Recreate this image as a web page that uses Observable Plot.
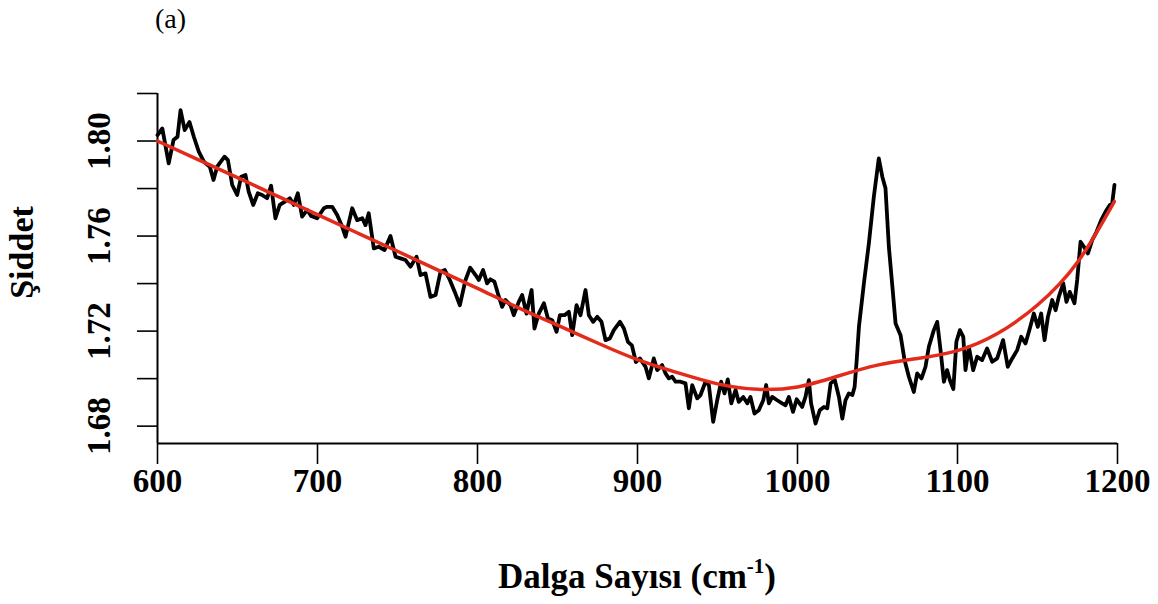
<!DOCTYPE html>
<html>
<head>
<meta charset="utf-8">
<script src="https://cdn.jsdelivr.net/npm/d3@7"></script>
<script src="https://cdn.jsdelivr.net/npm/@observablehq/plot@0.6"></script>
<style>
  html, body { margin: 0; padding: 0; background: #fff; }
  #wrap { position: relative; width: 1158px; height: 604px; font-family: "Liberation Serif", "Times New Roman", serif; }
  #panel { position: absolute; left: 155px; top: 3px; font-size: 28px; color: #000; }
  #xtitle { position: absolute; left: 637px; top: 558px; transform: translateX(-50%); font-size: 35px; font-weight: bold; white-space: nowrap; line-height: 38px; }
  #xtitle sup { font-size: 0.6em; line-height: 0; position: relative; top: -0.1em; }
</style>
</head>
<body>
<div id="wrap">
  <div id="chart"></div>
  <div id="panel">(a)</div>
  <div id="xtitle">Dalga Sayısı (cm<sup>-1</sup>)</div>
</div>
<script>
// Measured spectrum (wavenumber in cm-1, intensity)
const wavenumber = [
  600, 603, 607, 610, 612.5, 614.4, 617, 620, 622.7, 625.8, 629, 632.7, 635, 637.3, 641.9, 644, 646.7, 649.8,
  652.3, 655, 657, 659.8, 662.7, 665.4, 668.5, 671, 673.7, 676.4, 679.6, 682.7, 685.2, 687.7, 690.4, 693.6,
  696, 699.8, 704, 706, 709.2, 712.3, 715.4, 717.5, 721.7, 724.8, 728, 730, 732, 735.2, 738.3, 741.9, 745.6,
  748.8, 751.9, 755, 758.1, 761.9, 764.4, 767.5, 770.6, 773.8, 776.9, 779.6, 782.7, 785.8, 789, 792.5, 795.4,
  798.8, 800.8, 803.5, 806, 808, 810.6, 812.7, 815.4, 817.5, 820.6, 822.7, 825.8, 827.9, 830.6, 833.8, 835.6,
  838.3, 841.5, 844, 846.7, 849.4, 851.5, 854.4, 857.1, 859.2, 861.9, 864.4, 867.5, 869.6, 872.3, 874.8, 877.5,
  880, 882.7, 885.2, 889, 891.5, 894, 896.5, 899, 901.5, 903.6, 905, 907.1, 910.2, 912.3, 915.4, 917.5, 919.6,
  921.7, 923.8, 926.9, 930, 932.1, 934.2, 937.3, 939.4, 942.5, 944.6, 947.3, 949.8, 952.3, 954.4, 956.4, 958.6,
  961.3, 963.3, 966.1, 968.6, 970.6, 973.1, 975.8, 978.6, 980.4, 982.1, 984.2, 987.3, 990.4, 992.5, 994.6,
  997.2, 999.5, 1002.9, 1005, 1007.1, 1008.5, 1011.3, 1013.9, 1016.5, 1018.6, 1020.7, 1023.3, 1025.9, 1028,
  1030, 1032.1, 1034.3, 1035.7, 1037, 1038.4, 1041.5, 1044.6, 1047.7, 1050.8, 1053, 1055, 1057.1, 1059.3,
  1061.3, 1064.4, 1066.9, 1069.6, 1072.7, 1074.8, 1077.5, 1080, 1082.1, 1085.2, 1087.3, 1089.4, 1091.5, 1093.5,
  1095.2, 1097.4, 1099.3, 1101.5, 1103.6, 1105, 1107.1, 1109.8, 1112.3, 1115.4, 1118.5, 1121.7, 1124.8, 1128.5,
  1131.4, 1134.2, 1137.3, 1139.8, 1142.5, 1145.2, 1147.7, 1150.2, 1152.3, 1154.4, 1156.5, 1159.2, 1161.3,
  1163.3, 1166.1, 1168.1, 1170.2, 1173.1, 1174.8, 1176.9, 1179, 1181.5, 1184.2, 1186.9, 1189.8, 1192.5, 1195.2,
  1196.7, 1198.1
];
const intensity = [
  1.8025, 1.8053, 1.7906, 1.8004, 1.8018, 1.8130, 1.8046, 1.8080, 1.8018, 1.7955, 1.7913, 1.7892, 1.7836, 1.7892,
  1.7934, 1.7920, 1.7815, 1.7773, 1.7850, 1.7857, 1.7787, 1.7731, 1.7780, 1.7773, 1.7759, 1.7812, 1.7675, 1.7731,
  1.7745, 1.7759, 1.7731, 1.7780, 1.7682, 1.7710,
  1.7685, 1.7675, 1.7717, 1.7723, 1.7723, 1.7689, 1.7640, 1.7597, 1.7717, 1.7667, 1.7675, 1.7646, 1.7696, 1.7548,
  1.7555, 1.7541, 1.7600, 1.7513, 1.7506, 1.7499, 1.7471, 1.7513, 1.7436, 1.7443, 1.7344, 1.7352, 1.7450, 1.7457,
  1.7415, 1.7365, 1.7309, 1.7415, 1.7467,
  1.7436, 1.7415, 1.7457, 1.7401, 1.7418, 1.7408, 1.7359, 1.7302, 1.7331, 1.7309, 1.7267, 1.7323, 1.7352, 1.7274,
  1.7373, 1.7211, 1.7274, 1.7317, 1.7253, 1.7246, 1.7197, 1.7267, 1.7267, 1.7281, 1.7183, 1.7309, 1.7267, 1.7373,
  1.7267, 1.7239, 1.7260, 1.7239, 1.7162, 1.7169, 1.7204, 1.7239, 1.7211, 1.7155, 1.7140, 1.7070,
  1.7085, 1.7064, 1.7050, 1.7001, 1.7085, 1.7036, 1.7057, 1.7022, 1.7001, 1.7008, 1.6987, 1.6987, 1.6980, 1.6875,
  1.6973, 1.6917, 1.6931, 1.6987, 1.6973, 1.6818, 1.6909, 1.6987, 1.6938, 1.6997, 1.6896, 1.6952, 1.6902, 1.6923,
  1.6896, 1.6923, 1.6853, 1.6867, 1.6909, 1.6973, 1.6896, 1.6923, 1.6909, 1.6896, 1.6888, 1.6923,
  1.6860, 1.6913, 1.6881, 1.6923, 1.6994, 1.6896, 1.6811, 1.6867, 1.6881, 1.6875, 1.6980, 1.6994, 1.6923, 1.6832,
  1.6909, 1.6938, 1.6931, 1.6965, 1.7078, 1.7218, 1.7401, 1.7569, 1.7765, 1.7927, 1.7850, 1.7801, 1.7555, 1.7387,
  1.7232, 1.7183, 1.7078, 1.7008, 1.6944, 1.7022, 1.7001, 1.7050, 1.7134, 1.7204, 1.7239, 1.7120, 1.6987, 1.7036,
  1.6994, 1.6956, 1.7155, 1.7204, 1.7176, 1.7036, 1.7134, 1.7036, 1.7092, 1.7078, 1.7127, 1.7071, 1.7085, 1.7162,
  1.7050, 1.7085, 1.7120, 1.7176, 1.7148, 1.7211, 1.7274, 1.7218, 1.7274, 1.7162, 1.7260, 1.7331, 1.7288,
  1.7344, 1.7401, 1.7323, 1.7365, 1.7317, 1.7415, 1.7576, 1.7555, 1.7527, 1.7583, 1.7618, 1.7667, 1.7702, 1.7731,
  1.7738, 1.7815
];
// Smooth fitted baseline (red)
const fitWavenumber = [600, 625, 650, 675, 700, 725, 750, 775, 800, 825, 850, 875, 900, 925, 950, 975, 1000, 1025, 1050, 1075, 1100, 1125, 1150, 1175, 1198];
const fitIntensity  = [1.800, 1.7923, 1.7846, 1.7768, 1.769, 1.7613, 1.7536, 1.7458, 1.738, 1.730, 1.7225, 1.715, 1.708, 1.7025, 1.6978, 1.6955, 1.6965, 1.701, 1.7057, 1.7085, 1.7118, 1.719, 1.731, 1.749, 1.7745];
// Axis ticks
const xTicks = [600, 700, 800, 900, 1000, 1100, 1200];
const yTicks = [1.68, 1.70, 1.72, 1.74, 1.76, 1.78, 1.80, 1.82];
const yLabelValues = [1.68, 1.72, 1.76, 1.80];
const yLabelTexts = ["1.68", "1.72", "1.76", "1.80"];
const yTitle = "Şiddet";

const spectrum = wavenumber.map((w, i) => ({w, v: intensity[i]}));
const fit = fitWavenumber.map((w, i) => ({w, v: fitIntensity[i]}));
const yLabels = yLabelValues.map((v, i) => ({v, t: yLabelTexts[i]}));

const chart = Plot.plot({
  width: 1158,
  height: 604,
  marginLeft: 157,
  marginRight: 41,
  marginTop: 93,
  marginBottom: 161,
  x: {domain: [600, 1200]},
  y: {domain: [1.6727, 1.82]},
  style: {fontFamily: "Liberation Serif", background: "white", color: "black"},
  marks: [
    Plot.axisX({ticks: xTicks, tickSize: 21, tickPadding: 4, tickFormat: d => String(d), fontSize: 33, fontWeight: "bold", label: null, strokeWidth: 1.6}),
    Plot.axisY({ticks: yTicks, tickSize: 20, tickFormat: () => "", label: null, strokeWidth: 1.6}),
    Plot.text(yLabels, {y: "v", text: "t", frameAnchor: "left", rotate: -90, textAnchor: "middle", lineAnchor: "middle", dx: -58, fontSize: 33, fontWeight: "bold"}),
    Plot.text([yTitle], {frameAnchor: "left", rotate: -90, textAnchor: "middle", lineAnchor: "middle", dx: -135, dy: -16, fontSize: 34, fontWeight: "bold"}),
    Plot.ruleX([600], {stroke: "black", strokeWidth: 2}),
    Plot.ruleY([1.6727], {stroke: "black", strokeWidth: 2}),
    Plot.line(spectrum, {x: "w", y: "v", stroke: "black", strokeWidth: 3.8, strokeLinejoin: "round"}),
    Plot.line(fit, {x: "w", y: "v", stroke: "#e32b1c", strokeWidth: 3.5, curve: "natural"})
  ]
});
document.getElementById("chart").appendChild(chart);
</script>
</body>
</html>
